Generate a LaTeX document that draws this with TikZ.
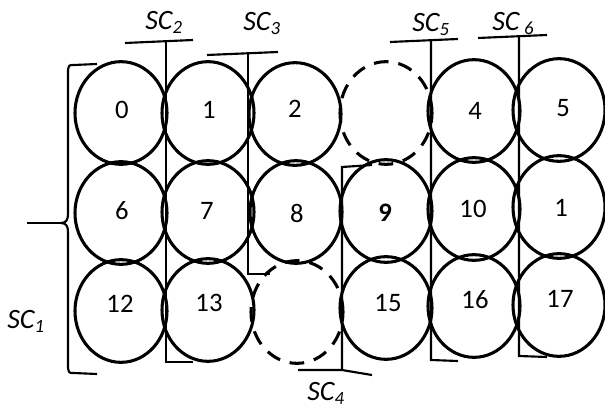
\documentclass[tikz,border=0pt]{standalone}
\usepackage{fontspec}
\setmainfont{Carlito}
\usetikzlibrary{shapes.geometric}

% subscript of the SC labels
\newcommand\scsub[1]{\raisebox{-3pt}{\fontsize{14}{14}\selectfont #1}}

\tikzset{
  cell/.style={ellipse, draw, line width=2.3pt, minimum width=69pt,
               minimum height=77pt, inner sep=0pt, outer sep=0pt},
  hole/.style={cell, dash pattern=on 11pt off 7.5pt},
  num/.style={font=\fontsize{20}{24}\selectfont, inner sep=0pt},
  brk/.style={line width=1.6pt, line join=miter},
  sc/.style={font=\fontsize{21}{25}\selectfont\itshape, inner sep=0pt, anchor=base west}
}

\begin{document}
\begin{tikzpicture}[x=0.75pt,y=-0.75pt]
\useasboundingbox (0,0) rectangle (605,409);

% ---- cells, top row
\node[cell] (c0)  at (121,113) {};
\node[cell] (c1)  at (208,113) {};
\node[cell] (c2)  at (295,114) {};
\node[hole] (c3)  at (386,113) {};
\node[cell] (c4)  at (474,111) {};
\node[cell] (c5)  at (559,110) {};
% ---- middle row
\node[cell] (c6)  at (121,213) {};
\node[cell] (c7)  at (208,212) {};
\node[cell] (c8)  at (296,212) {};
\node[cell] (c9)  at (386,211) {};
\node[cell] (c10) at (474,209) {};
\node[cell] (c11) at (559,207) {};
% ---- bottom row
\node[cell] (c12) at (121,311) {};
\node[cell] (c13) at (208,310) {};
\node[hole] (c14) at (297,312) {};
\node[cell] (c15) at (386,308) {};
\node[cell] (c16) at (474,306) {};
\node[cell] (c17) at (559,305) {};

% ---- cell numbers
\node[num] (n0)  at (122,110) {0};
\node[num] (n1)  at (209,110) {1};
\node[num] (n2)  at (295,109) {2};
\node[num] (n4)  at (475,111) {4};
\node[num] (n5)  at (563,108) {5};
\node[num] (n6)  at (122,211) {6};
\node[num] (n7)  at (207,211) {7};
\node[num] (n8)  at (297,213) {8};
\node[num] (n9)  at (385,213) {\bfseries 9};
\node[num] (n10) at (473,209) {10};
\node[num] (n11) at (561,208) {1};
\node[num] (n12) at (120,304) {12};
\node[num] (n13) at (209,303) {13};
\node[num] (n15) at (388,303) {15};
\node[num] (n16) at (475,300) {16};
\node[num] (n17) at (560,299) {17};

% ---- SC1: brace around the first column
\draw[brk] (97,64) -- (74,65) .. controls (69,65) .. (68,70) -- (68,214)
  .. controls (68,220) and (66,223) .. (61,223)
  .. controls (66,223) and (68,226) .. (68,232) -- (68,368)
  .. controls (69,373) .. (74,373) -- (97,374);
\draw[brk] (27,223) -- (61,223);

% ---- SC2
\draw[brk] (125,43) -- (193,40);
\draw[brk] (166,41) -- (166,362) -- (193,362);
% ---- SC3
\draw[brk] (207,55) -- (278,52);
\draw[brk] (248,54) -- (248,274) -- (270,274);
% ---- SC4
\draw[brk] (298,370) -- (342,370) -- (372,375);
\draw[brk] (342,370) -- (342,167) -- (372,165);
% ---- SC5
\draw[brk] (390,42) -- (458,39);
\draw[brk] (431,41) -- (431,360) -- (458,361);
% ---- SC6
\draw[brk] (478,38) -- (547,35);
\draw[brk] (519,37) -- (519,356) -- (547,357);

% ---- labels
\node[sc] (sc1) at (7,328)   {SC\scsub{1}};
\node[sc] (sc2) at (145,30)  {SC\scsub{2}};
\node[sc] (sc3) at (243,31)  {SC\scsub{3}};
\node[sc] (sc4) at (307,400) {SC\scsub{4}};
\node[sc] (sc5) at (412,32)  {SC\scsub{5}};
\node[sc] (sc6) at (492,31)  {SC\,\scsub{6}};
\end{tikzpicture}
\end{document}
